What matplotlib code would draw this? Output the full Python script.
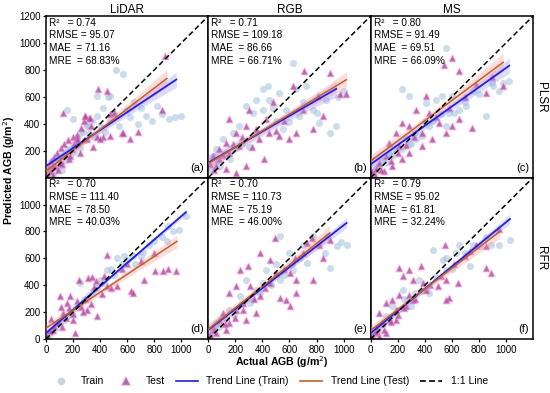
import numpy as np
import matplotlib
matplotlib.use("Agg")
import matplotlib.pyplot as plt
from matplotlib.lines import Line2D

plt.rcParams['font.family'] = ['Liberation Sans', 'DejaVu Sans']

sources = ["LiDAR", "RGB", "MS"]
models = ["PLSR", "RFR"]
panel_tags = ["(a)", "(b)", "(c)", "(d)", "(e)", "(f)"]

stats = [
    ("0.74", "95.07", "71.16", "68.83%"),
    ("0.71", "109.18", "86.66", "66.71%"),
    ("0.80", "91.49", "69.51", "66.09%"),
    ("0.70", "111.40", "78.50", "40.03%"),
    ("0.70", "110.73", "75.19", "46.00%"),
    ("0.79", "95.02", "61.81", "32.24%"),
]

# trend lines: (intercept, slope, x_end)
train_line = [(86, 0.667, 963), (111, 0.58, 946), (99, 0.715, 1025),
              (45, 0.868, 1035), (69, 0.777, 1022), (45, 0.823, 1030)]
test_line = [(49, 0.77, 894), (105, 0.61, 1020), (123, 0.749, 980),
             (82, 0.666, 968), (74, 0.796, 898), (65, 0.77, 955)]

# ---- (a) LiDAR / PLSR
a_train_x = [20, 40, 50, 70, 90, 110, 130, 150, 160, 180, 200, 210, 230, 250, 270, 290, 300, 320, 340, 360,
             380, 400, 420, 440, 460, 470, 500, 519, 540, 573, 600, 620, 650, 680, 700, 740, 783, 820, 860, 906,
             956, 1000, 474, 375, 153, 104, 203, 252, 301, 30, 60, 120]
a_train_y = [60, 90, 120, 80, 140, 100, 170, 130, 210, 160, 250, 190, 300, 220, 340, 280, 390, 330, 420, 300,
             460, 380, 520, 340, 600, 430, 480, 803, 380, 773, 500, 450, 560, 400, 520, 460, 420, 531, 470, 432,
             452, 460, 605, 605, 506, 86, 432, 333, 383, 30, 40, 60]
a_test_x = [10, 20, 30, 40, 50, 60, 70, 80, 90, 100, 110, 120, 130, 150, 160, 170, 190, 200, 210, 230, 250,
            260, 280, 290, 300, 320, 330, 350, 380, 388, 420, 450, 470, 500, 560, 573, 620, 680, 857, 880, 128,
            240, 54, 104, 178, 289, 326, 474, 400, 227]
a_test_y = [30, 80, 50, 120, 20, 150, 90, 180, 60, 130, 220, 100, 250, 170, 280, 140, 210, 300, 250, 320, 180,
            370, 420, 460, 290, 440, 380, 230, 300, 655, 300, 642, 470, 480, 330, 333, 290, 340, 506, 902, 482,
            270, 86, 111, 160, 457, 445, 309, 284, 284]

# ---- (b) RGB / PLSR
b_train_x = [625, 440, 403, 452, 526, 650, 724, 773, 822, 897, 946, 872, 576, 674, 403, 329, 279, 353, 230, 180,
             106, 57, 32, 20, 60, 90, 130, 160, 200, 250, 300, 350, 500, 600, 700, 800, 1000, 960, 550, 480]
b_train_y = [852, 679, 655, 580, 630, 655, 679, 506, 408, 333, 383, 580, 506, 457, 506, 482, 531, 580, 383, 333,
             284, 210, 160, 60, 120, 90, 180, 140, 220, 260, 230, 330, 420, 410, 560, 480, 640, 600, 360, 520]
b_test_x = [711, 625, 810, 971, 1020, 156, 304, 427, 501, 526, 600, 650, 773, 847, 279, 353, 205, 131, 82, 32,
            82, 156, 230, 378, 452, 57, 131, 205, 279, 415, 10, 40, 110, 180, 250, 320, 560, 700, 900, 480]
b_test_y = [790, 679, 605, 618, 618, 437, 506, 432, 346, 309, 284, 333, 358, 457, 383, 358, 333, 259, 210, 160,
            136, 185, 235, 284, 333, 86, 62, 37, 86, 136, 100, 60, 170, 250, 300, 230, 420, 500, 780, 560]

# ---- (c) MS / PLSR
c_train_x = [556, 235, 284, 408, 482, 531, 605, 655, 704, 852, 902, 976, 1025, 580, 432, 383, 334, 284, 235, 161,
             111, 62, 20, 40, 90, 140, 190, 260, 330, 460, 520, 620, 700, 760, 800, 900, 950, 560, 400, 300]
c_train_y = [963, 655, 605, 556, 580, 605, 605, 506, 531, 457, 679, 704, 716, 482, 383, 309, 284, 259, 210, 160,
             111, 86, 40, 70, 120, 170, 200, 290, 330, 420, 470, 480, 560, 640, 620, 700, 640, 380, 420, 250]
c_test_x = [605, 543, 655, 778, 852, 976, 408, 334, 432, 506, 556, 605, 655, 284, 235, 185, 136, 210, 284, 111,
            62, 161, 37, 99, 235, 383, 457, 753, 10, 30, 80, 150, 200, 260, 320, 380, 480, 580, 700, 900]
c_test_y = [889, 840, 790, 692, 630, 679, 605, 506, 482, 408, 333, 383, 432, 383, 408, 333, 259, 235, 185, 160,
            111, 86, 62, 49, 136, 235, 284, 370, 40, 20, 60, 120, 180, 240, 300, 330, 450, 520, 600, 750]

# ---- (d) LiDAR / RFR
d_train_x = [1034, 985, 898, 799, 700, 600, 526, 451, 402, 253, 300, 380, 420, 560, 640, 720, 760, 860, 940, 480,
             20, 40, 70, 100, 130, 160, 190, 220, 250, 280, 320, 350, 660, 580, 500, 900]
d_train_y = [913, 814, 727, 727, 615, 590, 603, 516, 441, 417, 300, 380, 420, 560, 620, 650, 700, 760, 800, 520,
             30, 50, 80, 110, 140, 170, 190, 230, 260, 290, 330, 360, 560, 620, 480, 840]
d_test_x = [451, 308, 246, 526, 625, 640, 724, 806, 868, 960, 377, 303, 154, 104, 129, 203, 55, 92, 216, 352,
            414, 451, 10, 30, 60, 80, 120, 150, 170, 200, 230, 260, 290, 330, 370, 430, 480, 560, 700, 800,
            900, 40, 110, 180, 270, 340, 600]
d_test_y = [627, 454, 441, 392, 355, 345, 441, 503, 503, 503, 169, 218, 268, 318, 193, 144, 69, 131, 45, 384,
            335, 392, 20, 60, 100, 130, 90, 160, 230, 190, 280, 240, 300, 260, 430, 470, 380, 520, 580, 640,
            520, 150, 240, 320, 200, 460, 560]

# ---- (e) RGB / RFR
e_train_x = [528, 776, 875, 950, 1024, 900, 727, 627, 528, 404, 355, 231, 156, 107, 57, 305, 429, 280, 20, 40,
             80, 130, 190, 250, 320, 380, 460, 560, 620, 680, 820, 860, 980, 600, 500, 700]
e_train_y = [764, 764, 764, 689, 702, 528, 565, 516, 441, 417, 367, 318, 218, 169, 119, 268, 516, 441, 40, 60,
             90, 150, 180, 260, 300, 340, 400, 480, 560, 600, 700, 640, 720, 640, 560, 700]
e_test_x = [491, 379, 764, 727, 851, 231, 293, 454, 504, 603, 652, 776, 578, 603, 528, 652, 454, 305, 206, 156,
            255, 380, 206, 107, 82, 32, 156, 280, 355, 57, 132, 10, 40, 120, 200, 260, 340, 420, 560, 700, 900,
            640, 820]
e_test_y = [751, 640, 751, 714, 603, 516, 541, 590, 491, 491, 441, 441, 293, 243, 305, 342, 417, 392, 392, 342,
            268, 318, 218, 193, 144, 94, 119, 144, 193, 45, 69, 30, 70, 110, 160, 220, 300, 380, 520, 640, 740,
            600, 700]

# ---- (f) MS / RFR
f_train_x = [1029, 893, 657, 632, 533, 459, 558, 732, 806, 409, 360, 236, 434, 161, 112, 62, 37, 20, 90, 140,
             200, 270, 330, 380, 480, 600, 700, 760, 850, 950, 560, 300, 250]
f_train_y = [739, 702, 702, 640, 590, 665, 516, 541, 689, 367, 441, 367, 342, 243, 169, 94, 45, 30, 110, 160,
             220, 290, 340, 360, 460, 520, 640, 700, 760, 700, 600, 250, 300]
f_test_x = [553, 732, 856, 856, 893, 645, 558, 496, 583, 558, 372, 285, 211, 236, 310, 384, 409, 285, 211, 161,
            112, 260, 186, 62, 136, 87, 186, 37, 112, 62, 310, 10, 30, 50, 100, 150, 200, 250, 330, 440, 520,
            620, 700, 780, 950]
f_test_y = [702, 652, 689, 528, 491, 417, 441, 392, 305, 293, 541, 516, 528, 466, 441, 417, 367, 330, 330, 293,
            268, 243, 218, 193, 144, 119, 144, 69, 45, 20, 293, 20, 50, 80, 70, 130, 180, 230, 300, 400, 470,
            560, 620, 700, 820]

train_x = [a_train_x, b_train_x, c_train_x, d_train_x, e_train_x, f_train_x]
train_y = [a_train_y, b_train_y, c_train_y, d_train_y, e_train_y, f_train_y]
test_x = [a_test_x, b_test_x, c_test_x, d_test_x, e_test_x, f_test_x]
test_y = [a_test_y, b_test_y, c_test_y, d_test_y, e_test_y, f_test_y]

train_col = '#a9c6de'
test_face = (0.55, 0.30, 0.58, 0.8)
test_edge = (1.0, 0.45, 0.8, 0.35)
blue = '#2020e0'
brown = '#c0602a'


def band(ax, xs, ys, b0, b1, xend, color):
    xs = np.asarray(xs, float)
    ys = np.asarray(ys, float)
    n = len(xs)
    res = ys - (b0 + b1 * xs)
    s = np.sqrt(np.sum(res ** 2) / (n - 2))
    xb = xs.mean()
    sxx = np.sum((xs - xb) ** 2)
    xx = np.linspace(0, xend, 100)
    yy = b0 + b1 * xx
    h = 1.96 * s * np.sqrt(1.0 / n + (xx - xb) ** 2 / sxx) * 0.6
    ax.fill_between(xx, yy - h, yy + h, color=color, lw=0, zorder=3)
    return xx, yy


fig = plt.figure(figsize=(5.5, 3.93), dpi=100)
gs = fig.add_gridspec(2, 3, left=0.0836, right=0.969, top=0.959, bottom=0.137, wspace=0, hspace=0)

for i in range(6):
    r, c = divmod(i, 3)
    ax = fig.add_subplot(gs[r, c])
    ax.set_xlim(0, 1200)
    ax.set_ylim(0, 1200)
    ax.scatter(train_x[i], train_y[i], s=26, marker='o', color=train_col, alpha=0.6, lw=0, zorder=1)
    ax.scatter(test_x[i], test_y[i], s=20, marker='^', facecolor=test_face, edgecolor=test_edge,
               lw=1.4, zorder=2)
    b0, b1, xe = train_line[i]
    xx, yy = band(ax, train_x[i], train_y[i], b0, b1, xe, (0.55, 0.55, 1.0, 0.3))
    ax.plot(xx, yy, color=blue, lw=1.3, zorder=5)
    b0, b1, xe = test_line[i]
    xx, yy = band(ax, test_x[i], test_y[i], b0, b1, xe, (1.0, 0.55, 0.55, 0.3))
    ax.plot(xx, yy, color=brown, lw=1.1, zorder=6)
    ax.plot([0, 1200], [0, 1200], ls='--', color='black', lw=1.1, dashes=(3.5, 2), zorder=7)

    r2, rmse, mae, mre = stats[i]
    txt = f"R²   = {r2}\nRMSE = {rmse}\nMAE  = {mae}\nMRE  = {mre}"
    ax.text(0.018, 0.99, txt, transform=ax.transAxes, va='top', ha='left', fontsize=7.2,
            linespacing=1.33, zorder=8)
    ax.text(0.975, 0.03, panel_tags[i], transform=ax.transAxes, va='bottom', ha='right', fontsize=8)

    for sp in ax.spines.values():
        sp.set_linewidth(1.1)
    ax.tick_params(direction='out', length=2.5, width=0.9, labelsize=7, pad=1.5)
    if r == 1:
        ax.set_xticks([0, 200, 400, 600, 800, 1000])
        ax.set_yticks([0, 200, 400, 600, 800, 1000])
    else:
        ax.set_xticks([0, 200, 400, 600, 800, 1000])
        ax.set_xticklabels([])
        ax.set_yticks([200, 400, 600, 800, 1000, 1200])
    if c != 0:
        ax.set_yticklabels([])
        ax.tick_params(axis='y', length=0)
    if r == 0:
        ax.tick_params(axis='x', length=0)
        ax.set_title(sources[c], fontsize=8.5, pad=1)
    if c == 2:
        ax.yaxis.set_label_position('right')
        ax.set_ylabel(models[r], rotation=270, fontsize=8.5, labelpad=10)

fig.text(0.017, 0.567, "Predicted AGB (g/m$^2$)", rotation=90, va='center', ha='center',
         fontsize=7.6, fontweight='bold')
fig.text(0.513, 0.078, "Actual AGB (g/m$^2$)", va='center', ha='center', fontsize=7.6, fontweight='bold')

handles = [
    Line2D([], [], marker='o', ls='', color=train_col, alpha=0.7, markersize=5.5, markeredgewidth=0),
    Line2D([], [], marker='^', ls='', markerfacecolor=test_face, markeredgecolor=test_edge,
           markersize=5.5, markeredgewidth=1.4),
    Line2D([], [], color=blue, lw=1.2),
    Line2D([], [], color=brown, lw=1.2),
    Line2D([], [], color='black', lw=1.2, ls='--', dashes=(3.5, 2)),
]
labels = ["Train", "Test", "Trend Line (Train)", "Trend Line (Test)", "1:1 Line"]
fig.legend(handles, labels, loc='center', bbox_to_anchor=(0.489, 0.03), ncol=5, frameon=False,
           fontsize=7.5, handlelength=2.1, columnspacing=1.05, handletextpad=0.85)

fig.savefig("out.png", dpi=100)
